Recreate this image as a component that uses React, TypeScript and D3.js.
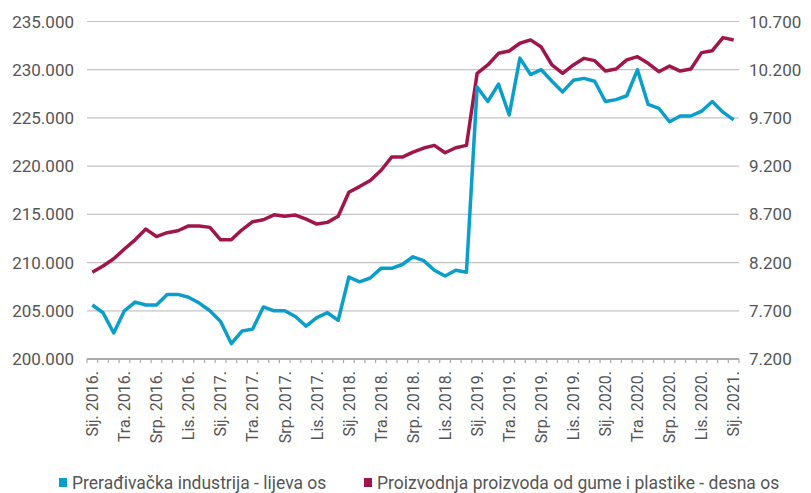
import * as d3 from "d3";

// Croatian month abbreviations, labels every third month
const monthNames = ["Sij.", "Velj.", "Ožu.", "Tra.", "Svi.", "Lip.", "Srp.", "Kol.", "Ruj.", "Lis.", "Stu.", "Pro."];
const years = [2016, 2017, 2018, 2019, 2020, 2021];

const categories: string[] = [];
years.forEach((y) => {
  monthNames.forEach((m) => {
    if (categories.length < 61) categories.push(`${m} ${y}.`);
  });
});

// Prerađivačka industrija (left axis)
const manufacturing = [
  205600, 204800, 202700, 205000, 205900, 205600, 205600, 206700, 206700, 206400,
  205800, 205000, 203900, 201600, 202900, 203100, 205400, 205000, 205000, 204400,
  203400, 204300, 204800, 204000, 208500, 208000, 208400, 209400, 209400, 209800,
  210600, 210200, 209200, 208600, 209200, 209000, 228200, 226700, 228500, 225300,
  231200, 229500, 230000, 228800, 227700, 228900, 229100, 228800, 226700, 226900,
  227300, 230000, 226400, 226000, 224600, 225200, 225200, 225700, 226700, 225600,
  224800,
];

// Proizvodnja proizvoda od gume i plastike (right axis)
const rubberPlastic = [
  8100, 8165, 8240, 8340, 8436, 8547, 8470, 8510, 8530, 8580,
  8580, 8565, 8436, 8436, 8540, 8624, 8644, 8695, 8680, 8693,
  8651, 8599, 8617, 8680, 8929, 8988, 9051, 9155, 9294, 9294,
  9346, 9388, 9415, 9339, 9391, 9415, 10162, 10249, 10370, 10394,
  10474, 10509, 10435, 10249, 10162, 10249, 10318, 10294, 10186, 10207,
  10302, 10335, 10266, 10179, 10238, 10186, 10207, 10377, 10397, 10533,
  10509,
];

const leftTicks = [200000, 205000, 210000, 215000, 220000, 225000, 230000, 235000];
const rightTicks = [7200, 7700, 8200, 8700, 9200, 9700, 10200, 10700];

const legendLabels = [
  "Prerađivačka industrija - lijeva os",
  "Proizvodnja proizvoda od gume i plastike - desna os",
];

const BLUE = "#0a9fca";
const RED = "#a0164b";
const TEXT = "#555555";
const FONT = "Roboto, 'Liberation Sans', sans-serif";

const hr = d3.formatLocale({ decimal: ",", thousands: ".", grouping: [3], currency: ["", ""] });
const fmt = hr.format(",");

export default function App() {
  const width = 811;
  const height = 493;
  const left = 87;
  const right = 739;
  const top = 21.5;
  const bottom = 359;

  const x = d3.scaleBand<string>().domain(categories).range([left, right]).padding(0);
  const cx = (i: number) => (x(categories[i]) ?? 0) + x.bandwidth() / 2;
  const yL = d3.scaleLinear().domain([200000, 235000]).range([bottom, top]);
  const yR = d3.scaleLinear().domain([7200, 10700]).range([bottom, top]);

  const lineL = d3.line<number>().x((_, i) => cx(i)).y((d) => yL(d));
  const lineR = d3.line<number>().x((_, i) => cx(i)).y((d) => yR(d));

  const tickXs = categories.map((c) => x(c) ?? 0).concat([right]);

  return (
    <svg
      width={width}
      height={height}
      viewBox={`0 0 ${width} ${height}`}
      style={{ position: "absolute", left: 0, top: 0, background: "#fff" }}
      fontFamily={FONT}
    >
      {/* gridlines */}
      {leftTicks.slice(1).map((t) => (
        <line key={t} x1={left} x2={right} y1={yL(t)} y2={yL(t)} stroke="#c4c4c4" strokeWidth={1.2} />
      ))}

      {/* left axis labels */}
      {leftTicks.map((t) => (
        <text key={t} x={74} y={yL(t)} dy="0.36em" textAnchor="end" fontSize={17} fill={TEXT}>
          {fmt(t)}
        </text>
      ))}

      {/* right axis labels */}
      {rightTicks.map((t) => (
        <text key={t} x={749} y={yR(t)} dy="0.36em" textAnchor="start" fontSize={17} fill={TEXT}>
          {fmt(t)}
        </text>
      ))}

      {/* x axis */}
      <line x1={left} x2={right} y1={bottom} y2={bottom} stroke="#aaaaaa" strokeWidth={2} />
      {tickXs.map((tx, i) => (
        <line key={i} x1={tx} x2={tx} y1={bottom} y2={bottom + 4} stroke="#aaaaaa" strokeWidth={1.2} />
      ))}
      {categories.map((c, i) =>
        i % 3 === 0 ? (
          <text
            key={c}
            transform={`translate(${cx(i)},${bottom + 12}) rotate(-90)`}
            dy="0.36em"
            textAnchor="end"
            fontSize={16}
            fill={TEXT}
          >
            {c}
          </text>
        ) : null
      )}

      {/* series */}
      <path d={lineR(rubberPlastic) ?? ""} fill="none" stroke={RED} strokeWidth={3.5} strokeLinejoin="round" />
      <path d={lineL(manufacturing) ?? ""} fill="none" stroke={BLUE} strokeWidth={3.5} strokeLinejoin="round" />

      {/* legend */}
      <rect x={59} y={478} width={8} height={9} fill={BLUE} />
      <text x={72} y={483} dy="0.36em" fontSize={17.5} fill={TEXT}>
        {legendLabels[0]}
      </text>
      <rect x={364} y={478} width={8} height={9} fill={RED} />
      <text x={377} y={483} dy="0.36em" fontSize={17.5} fill={TEXT}>
        {legendLabels[1]}
      </text>
    </svg>
  );
}
